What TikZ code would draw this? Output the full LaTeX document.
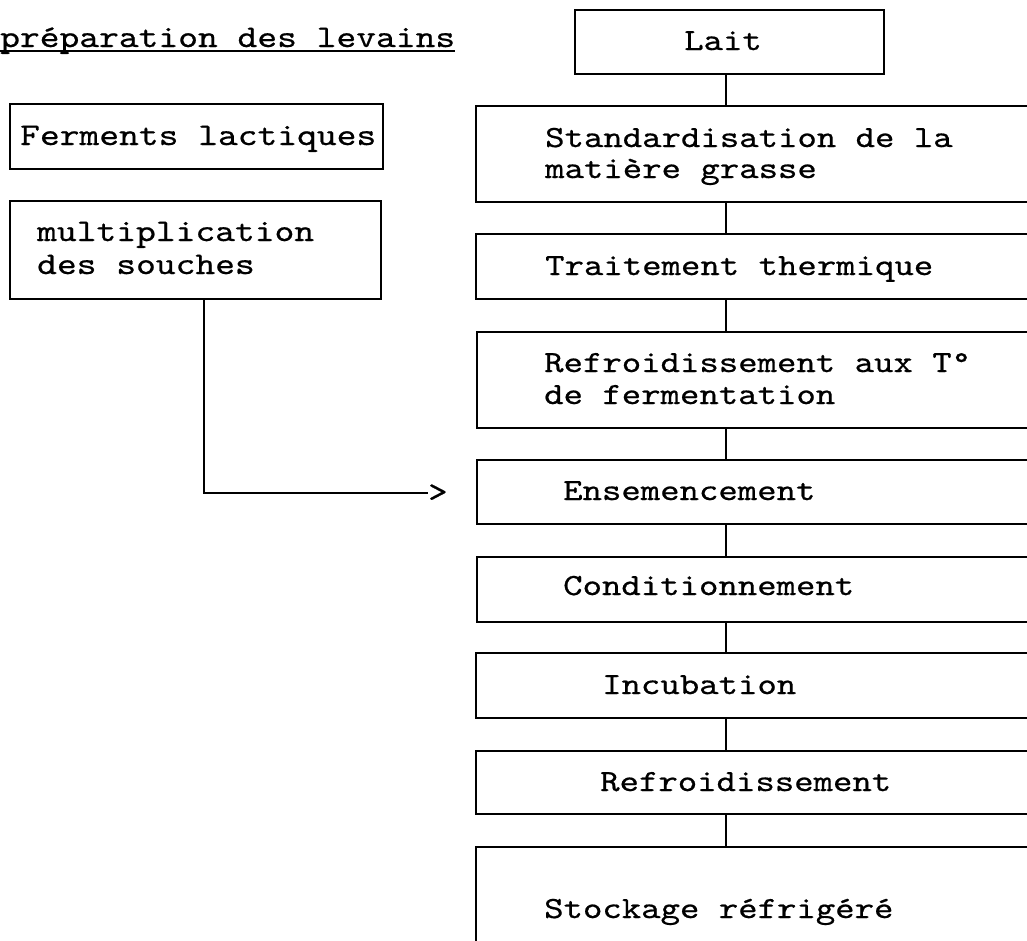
\documentclass[tikz,border=0pt]{standalone}
\usepackage{fontspec}
\setmonofont[FakeStretch=1.2,FakeBold=0.6]{lmmono10-regular.otf}
\begin{document}
\begin{tikzpicture}[x=1pt,y=-1pt,
  box/.style={draw,line width=2.4pt,inner sep=0pt,anchor=north west},
  lt/.style={font=\fontsize{31.4}{32}\selectfont\ttfamily,inner sep=0pt,anchor=base west},
  rt/.style={font=\fontsize{30.8}{32}\selectfont\ttfamily,inner sep=0pt,anchor=base west},
  conn/.style={line width=2pt}]
\useasboundingbox (0,0) rectangle (1027,940);
\fill[white] (0,0) rectangle (1027,940);
\clip (0,0) rectangle (1027,940);
% left column
\node[lt] (title) at (0,47) {préparation des levains};
\draw[line width=2pt] ([yshift=-4pt]title.base west) -- ([yshift=-4pt]title.base east);
\node[box,minimum width=373pt,minimum height=65pt] (fl) at (9,103) {};
\node[lt] (flt) at (20,145) {Ferments lactiques};
\node[box,minimum width=371pt,minimum height=98pt] (mu) at (9,200) {};
\node[lt] (mut1) at (37,241) {multiplication};
\node[lt] (mut2) at (37,274) {des souches};
% right column
\node[box,minimum width=309pt,minimum height=64pt] (lait) at (574,9) {};
\node[rt] (laitt) at (684,50) {Lait};
\node[box,minimum width=580pt,minimum height=96pt] (std) at (475,105) {};
\node[rt] (stdt1) at (545,147) {Standardisation de la};
\node[rt] (stdt2) at (545,178) {matière grasse};
\node[box,minimum width=580pt,minimum height=65pt] (tt) at (475,233) {};
\node[rt] (ttt) at (545,275) {Traitement thermique};
\node[box,minimum width=580pt,minimum height=96pt] (rf1) at (476,331) {};
\node[rt] (rf1t1) at (544,372) {Refroidissement aux T°};
\node[rt] (rf1t2) at (544,404) {de fermentation};
\node[box,minimum width=580pt,minimum height=64pt] (ens) at (476,459) {};
\node[rt] (enst) at (563,500) {Ensemencement};
\node[box,minimum width=580pt,minimum height=65pt] (cond) at (476,556) {};
\node[rt] (condt) at (563,595) {Conditionnement};
\node[box,minimum width=580pt,minimum height=65pt] (inc) at (475,652) {};
\node[rt] (inct) at (602,694) {Incubation};
\node[box,minimum width=580pt,minimum height=63pt] (rf2) at (475,750) {};
\node[rt] (rf2t) at (600,791) {Refroidissement};
\node[box,minimum width=580pt,minimum height=150pt] (sto) at (475,846) {};
\node[rt] (stot) at (544,918) {Stockage réfrigéré};
% connectors
\coordinate (spine) at (726,0);
\draw[conn] (lait.south -| spine) -- (std.north -| spine);
\draw[conn] (std.south -| spine) -- (tt.north -| spine);
\draw[conn] (tt.south -| spine) -- (rf1.north -| spine);
\draw[conn] (rf1.south -| spine) -- (ens.north -| spine);
\draw[conn] (ens.south -| spine) -- (cond.north -| spine);
\draw[conn] (cond.south -| spine) -- (inc.north -| spine);
\draw[conn] (inc.south -| spine) -- (rf2.north -| spine);
\draw[conn] (rf2.south -| spine) -- (sto.north -| spine);
\coordinate (dropx) at (204,0);
\node[rt,anchor=west] (gt) at (428,493) {>};
\draw[conn] (mu.south -| dropx) |- (gt.west);
\end{tikzpicture}
\end{document}
